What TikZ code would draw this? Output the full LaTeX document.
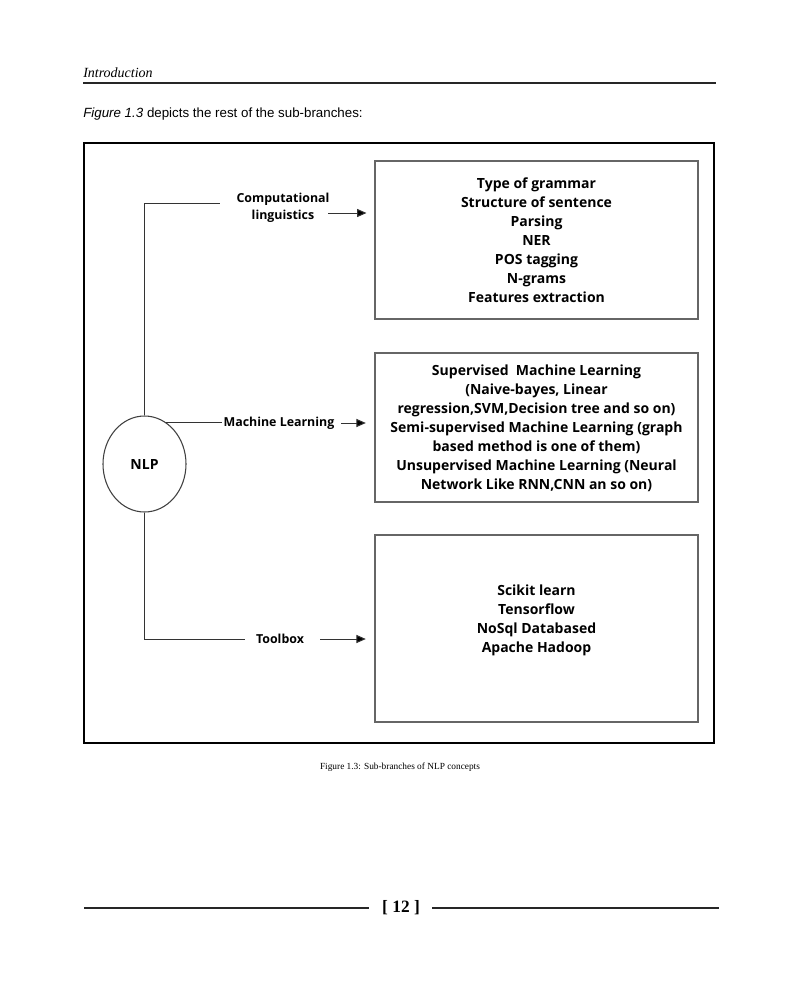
\documentclass[tikz,border=0pt]{standalone}
\usepackage{fontspec}
\setmainfont{Liberation Serif}
\newfontfamily\hsans{Liberation Sans}
\newfontfamily\osans{Open Sans}
\usetikzlibrary{shapes.geometric,arrows.meta}
\begin{document}
\begin{tikzpicture}[x=0.75pt,y=-0.75pt,
  frame/.style={draw=black,line width=1.5pt},
  gbox/.style={draw=black!60,line width=0.8pt,minimum width=242.25pt,inner sep=0pt},
  boxtext/.style={font=\osans\bfseries\fontsize{10.5}{14.3}\selectfont,align=center,inner sep=0pt},
  lbl/.style={font=\osans\bfseries\fontsize{9.3}{12.8}\selectfont,align=center,inner sep=1pt},
  conn/.style={draw=black!80,line width=0.75pt},
  arr/.style={conn,-{Triangle[length=7pt,width=6pt,fill=black]}},
  rule/.style={draw=black!85,line width=1.1pt}]
\useasboundingbox (0,0) rectangle (800,985);
\fill[white] (0,0) rectangle (800,985);
% header
\node[anchor=base west,inner sep=0pt,font=\itshape\fontsize{10.5}{12}\selectfont] (hdr) at (83,77) {Introduction};
\draw[rule] (83,83) -- (716,83);
\node[anchor=base west,inner sep=0pt,font=\hsans\fontsize{10}{12}\selectfont] (intro) at (83,117) {\textit{Figure 1.3} depicts the rest of the sub-branches:};
% frame
\draw[frame] (84,143) rectangle (714,743);
% NLP
\node[ellipse,draw=black!75,line width=0.8pt,minimum width=62.25pt,minimum height=72pt,inner sep=0pt,font=\osans\bfseries\fontsize{10.5}{12}\selectfont] (nlp) at (144.5,464) {NLP};
% labels
\node[lbl] (cl) at (283,207.5) {Computational\\linguistics};
\node[lbl,anchor=west] (ml) at (222,423) {Machine Learning};
\node[lbl] (tb) at (280,639) {Toolbox};
% boxes
\node[gbox,minimum height=118.5pt] (b1) at (536.5,240) {};
\node[boxtext] (t1) at (536.5,240) {Type of grammar\\Structure of sentence\\Parsing\\NER\\POS tagging\\N-grams\\Features extraction};
\node[gbox,minimum height=111.75pt] (b2) at (536.5,427.5) {};
\node[boxtext] (t2) at (536.5,428) {Supervised\ \ Machine Learning\\(Naive-bayes, Linear\\regression,SVM,Decision tree and so on)\\Semi-supervised Machine Learning (graph\\based method is one of them)\\Unsupervised Machine Learning (Neural\\Network Like RNN,CNN an so on)};
\node[gbox,minimum height=140.25pt] (b3) at (536.5,628.5) {};
\node[boxtext] (t3) at (536.5,620.5) {Scikit learn\\Tensorflow\\NoSql Databased\\Apache Hadoop};
% connector coordinates
\coordinate (c1) at (220,203);
\coordinate (a1) at (328,213);
\coordinate (a2) at (341,423);
\coordinate (c3) at (245,639);
\coordinate (a3) at (320,639);
% connectors
\draw[conn] (nlp.north) |- (c1);
\draw[conn] (nlp.62) -- (nlp.62 -| ml.west);
\draw[conn] (nlp.south) |- (c3);
\draw[arr,shorten >=6pt] (a1) -- (a1 -| b1.west);
\draw[arr,shorten >=6.5pt] (a2) -- (a2 -| b2.west);
\draw[arr,shorten >=6.5pt] (a3) -- (a3 -| b3.west);
% caption
\node[font=\fontsize{7}{8}\selectfont,inner sep=0pt] (cap) at (400,767) {Figure 1.3: Sub-branches of NLP concepts};
% footer
\node[font=\bfseries\fontsize{13}{15}\selectfont,inner sep=0pt] (pg) at (401,908) {[ 12 ]};
\coordinate (f1) at (84,908);
\coordinate (f2) at (719,908);
\draw[rule] (f1) -- (369,908);
\draw[rule] (432,908) -- (f2);
\end{tikzpicture}
\end{document}
